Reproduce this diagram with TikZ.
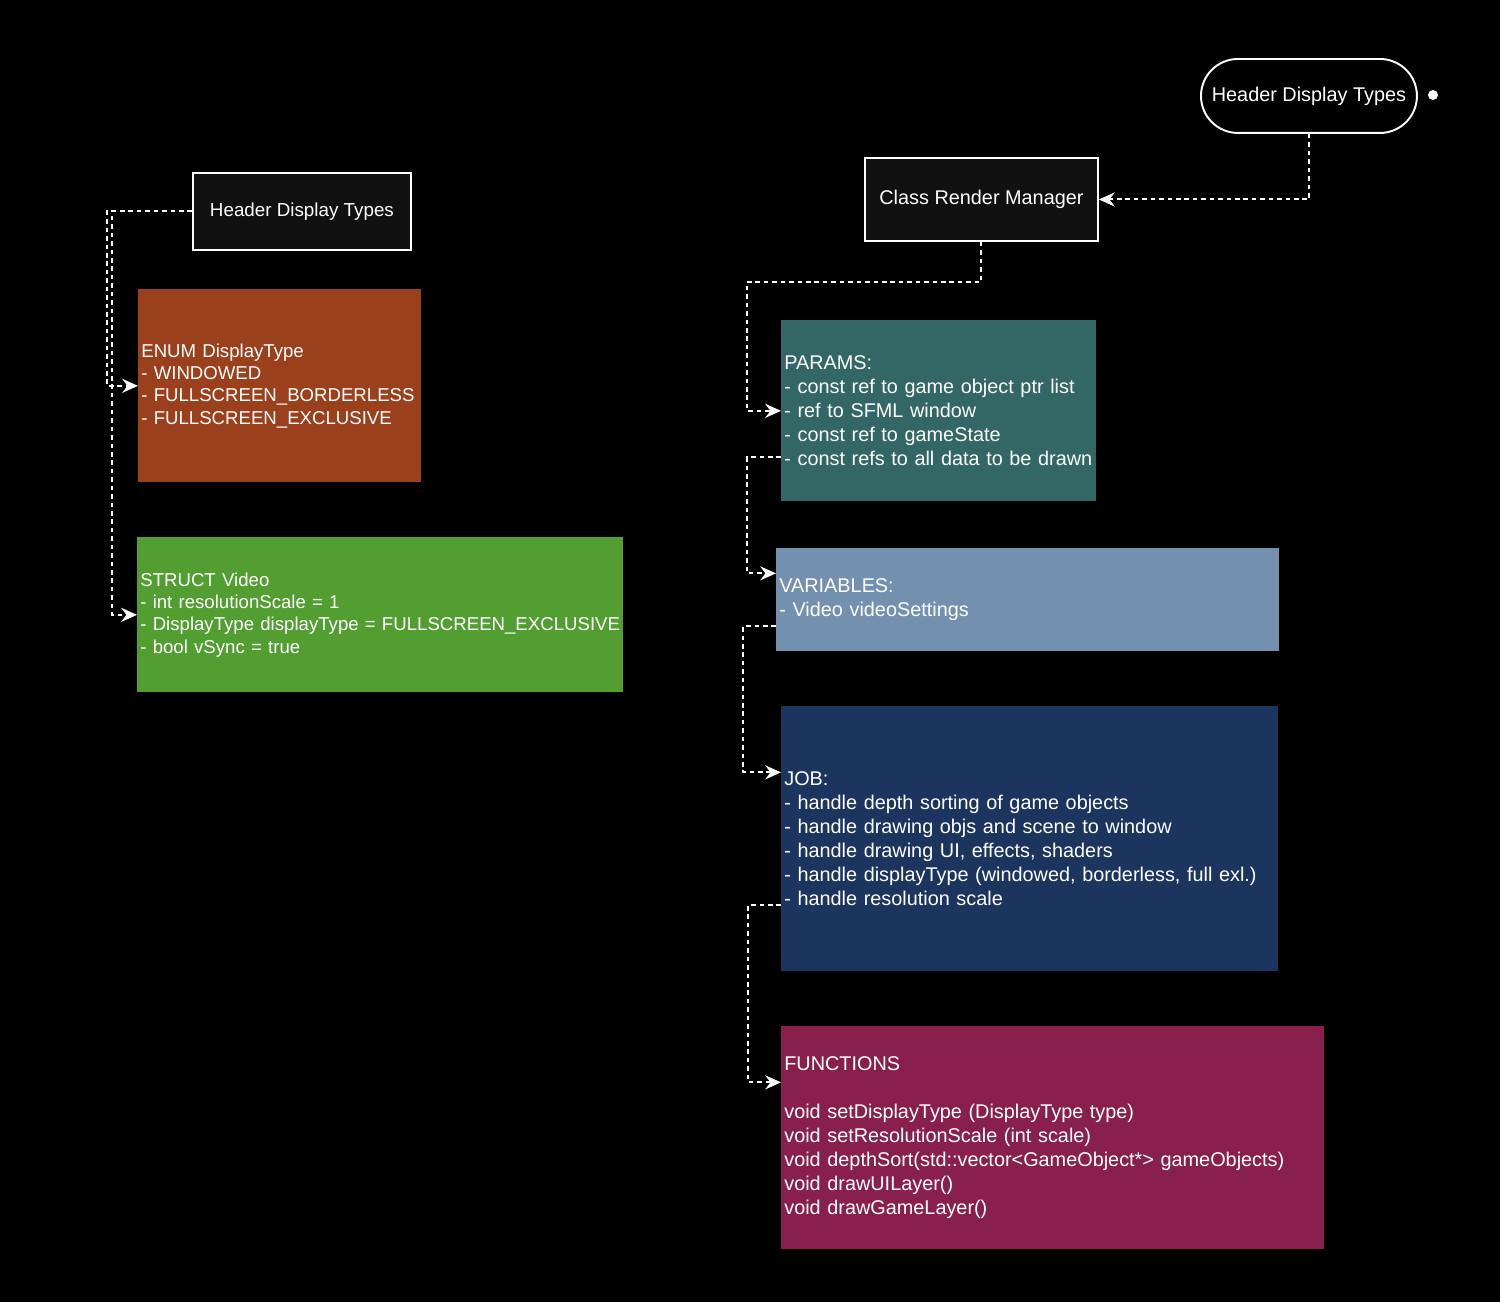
\documentclass[tikz,border=0pt]{standalone}
\usepackage{fontspec}
\setmainfont{Liberation Sans}
\usetikzlibrary{arrows.meta}

\definecolor{hdrgray}{HTML}{111111}
\definecolor{enumbrown}{HTML}{9A401C}
\definecolor{videogreen}{HTML}{529E31}
\definecolor{paramteal}{HTML}{326766}
\definecolor{varblue}{HTML}{7391AE}
\definecolor{jobnavy}{HTML}{1B355E}
\definecolor{funcplum}{HTML}{891F4B}

\tikzset{
  box/.style={draw=white, line width=1.1pt, anchor=north west, text=white,
    font=\fontsize{11.3}{13.7}\selectfont, inner sep=0pt},
  block/.style={anchor=north west, text=white, align=left,
    font=\fontsize{11.3}{13.7}\selectfont, inner xsep=0.06cm, inner ysep=0pt},
  tight/.style={font=\fontsize{10.6}{12.7}\selectfont},
  link/.style={draw=white, line width=1.1pt, dash pattern=on 2.6pt off 2.2pt,
    -{Stealth[length=9pt, width=8pt, inset=3pt]}}
}

\begin{document}
\begin{tikzpicture}[x=0.02cm, y=-0.02cm]
\fill[black] (0,0) rectangle (1500,1302);

% left column
\node[box, fill=hdrgray, font=\fontsize{10.7}{13}\selectfont, minimum width=4.36cm, minimum height=1.54cm] at (192,172) (hdrL) {Header Display Types};
\node[block, tight, fill=enumbrown, minimum height=3.86cm, text width=5.54cm] at (138,289) (enum)
  {ENUM DisplayType\\- WINDOWED\\- FULLSCREEN\_BORDERLESS\\- FULLSCREEN\_EXCLUSIVE};
\node[block, tight, fill=videogreen, minimum height=3.10cm, text width=9.60cm] at (137,537) (video)
  {STRUCT Video\\- int resolutionScale = 1\\- DisplayType displayType = FULLSCREEN\_EXCLUSIVE\\- bool vSync = true};

% right column
\node[box, fill=black, rounded corners=0.74cm, minimum width=4.32cm, minimum height=1.48cm] at (1200,58) (hdrR) {Header Display Types};
\node[circle, fill=white, inner sep=0pt, minimum size=0.2cm] at (1433,95) (dot) {};
\node[box, fill=hdrgray, minimum width=4.66cm, minimum height=1.66cm] at (864,157) (crm) {Class Render Manager};
\node[block, fill=paramteal, minimum height=3.62cm, text width=6.18cm] at (781,320) (params)
  {PARAMS:\\- const ref to game object ptr list\\- ref to SFML window\\- const ref to gameState\\- const refs to all data to be drawn};
\node[block, fill=varblue, minimum height=2.06cm, text width=9.94cm] at (776,548) (vars)
  {VARIABLES:\\- Video videoSettings};
\node[block, fill=jobnavy, minimum height=5.30cm, text width=9.82cm] at (781,706) (job)
  {JOB:\\- handle depth sorting of game objects\\- handle drawing objs and scene to window\\- handle drawing UI, effects, shaders\\- handle displayType (windowed, borderless, full exl.)\\- handle resolution scale};
\node[block, fill=funcplum, minimum height=4.46cm, text width=10.74cm] at (781,1026) (funcs)
  {FUNCTIONS\\~\\void setDisplayType (DisplayType type)\\void setResolutionScale (int scale)\\void depthSort(std::vector<GameObject*> gameObjects)\\void drawUILayer()\\void drawGameLayer()};

% connectors
\draw[link] (hdrL.west) -- ++(-85,0) |- (enum.west);
\draw[link] (hdrL.west) -- ++(-80,0) |- (video.west);
\draw[link] (hdrR.south) |- (crm.east);
\draw[link] (crm.south) -- ++(0,40) -| ([xshift=-0.68cm]params.west) -- (params.west);
\draw[link] ([yshift=-0.93cm]params.west) -- ++(-34,0) |- ([yshift=0.53cm]vars.west);
\draw[link] ([yshift=-0.53cm]vars.west) -- ++(-33,0) |- ([yshift=1.33cm]job.west);
\draw[link] ([yshift=-1.33cm]job.west) -- ++(-33,0) |- ([yshift=1.11cm]funcs.west);
\end{tikzpicture}
\end{document}
